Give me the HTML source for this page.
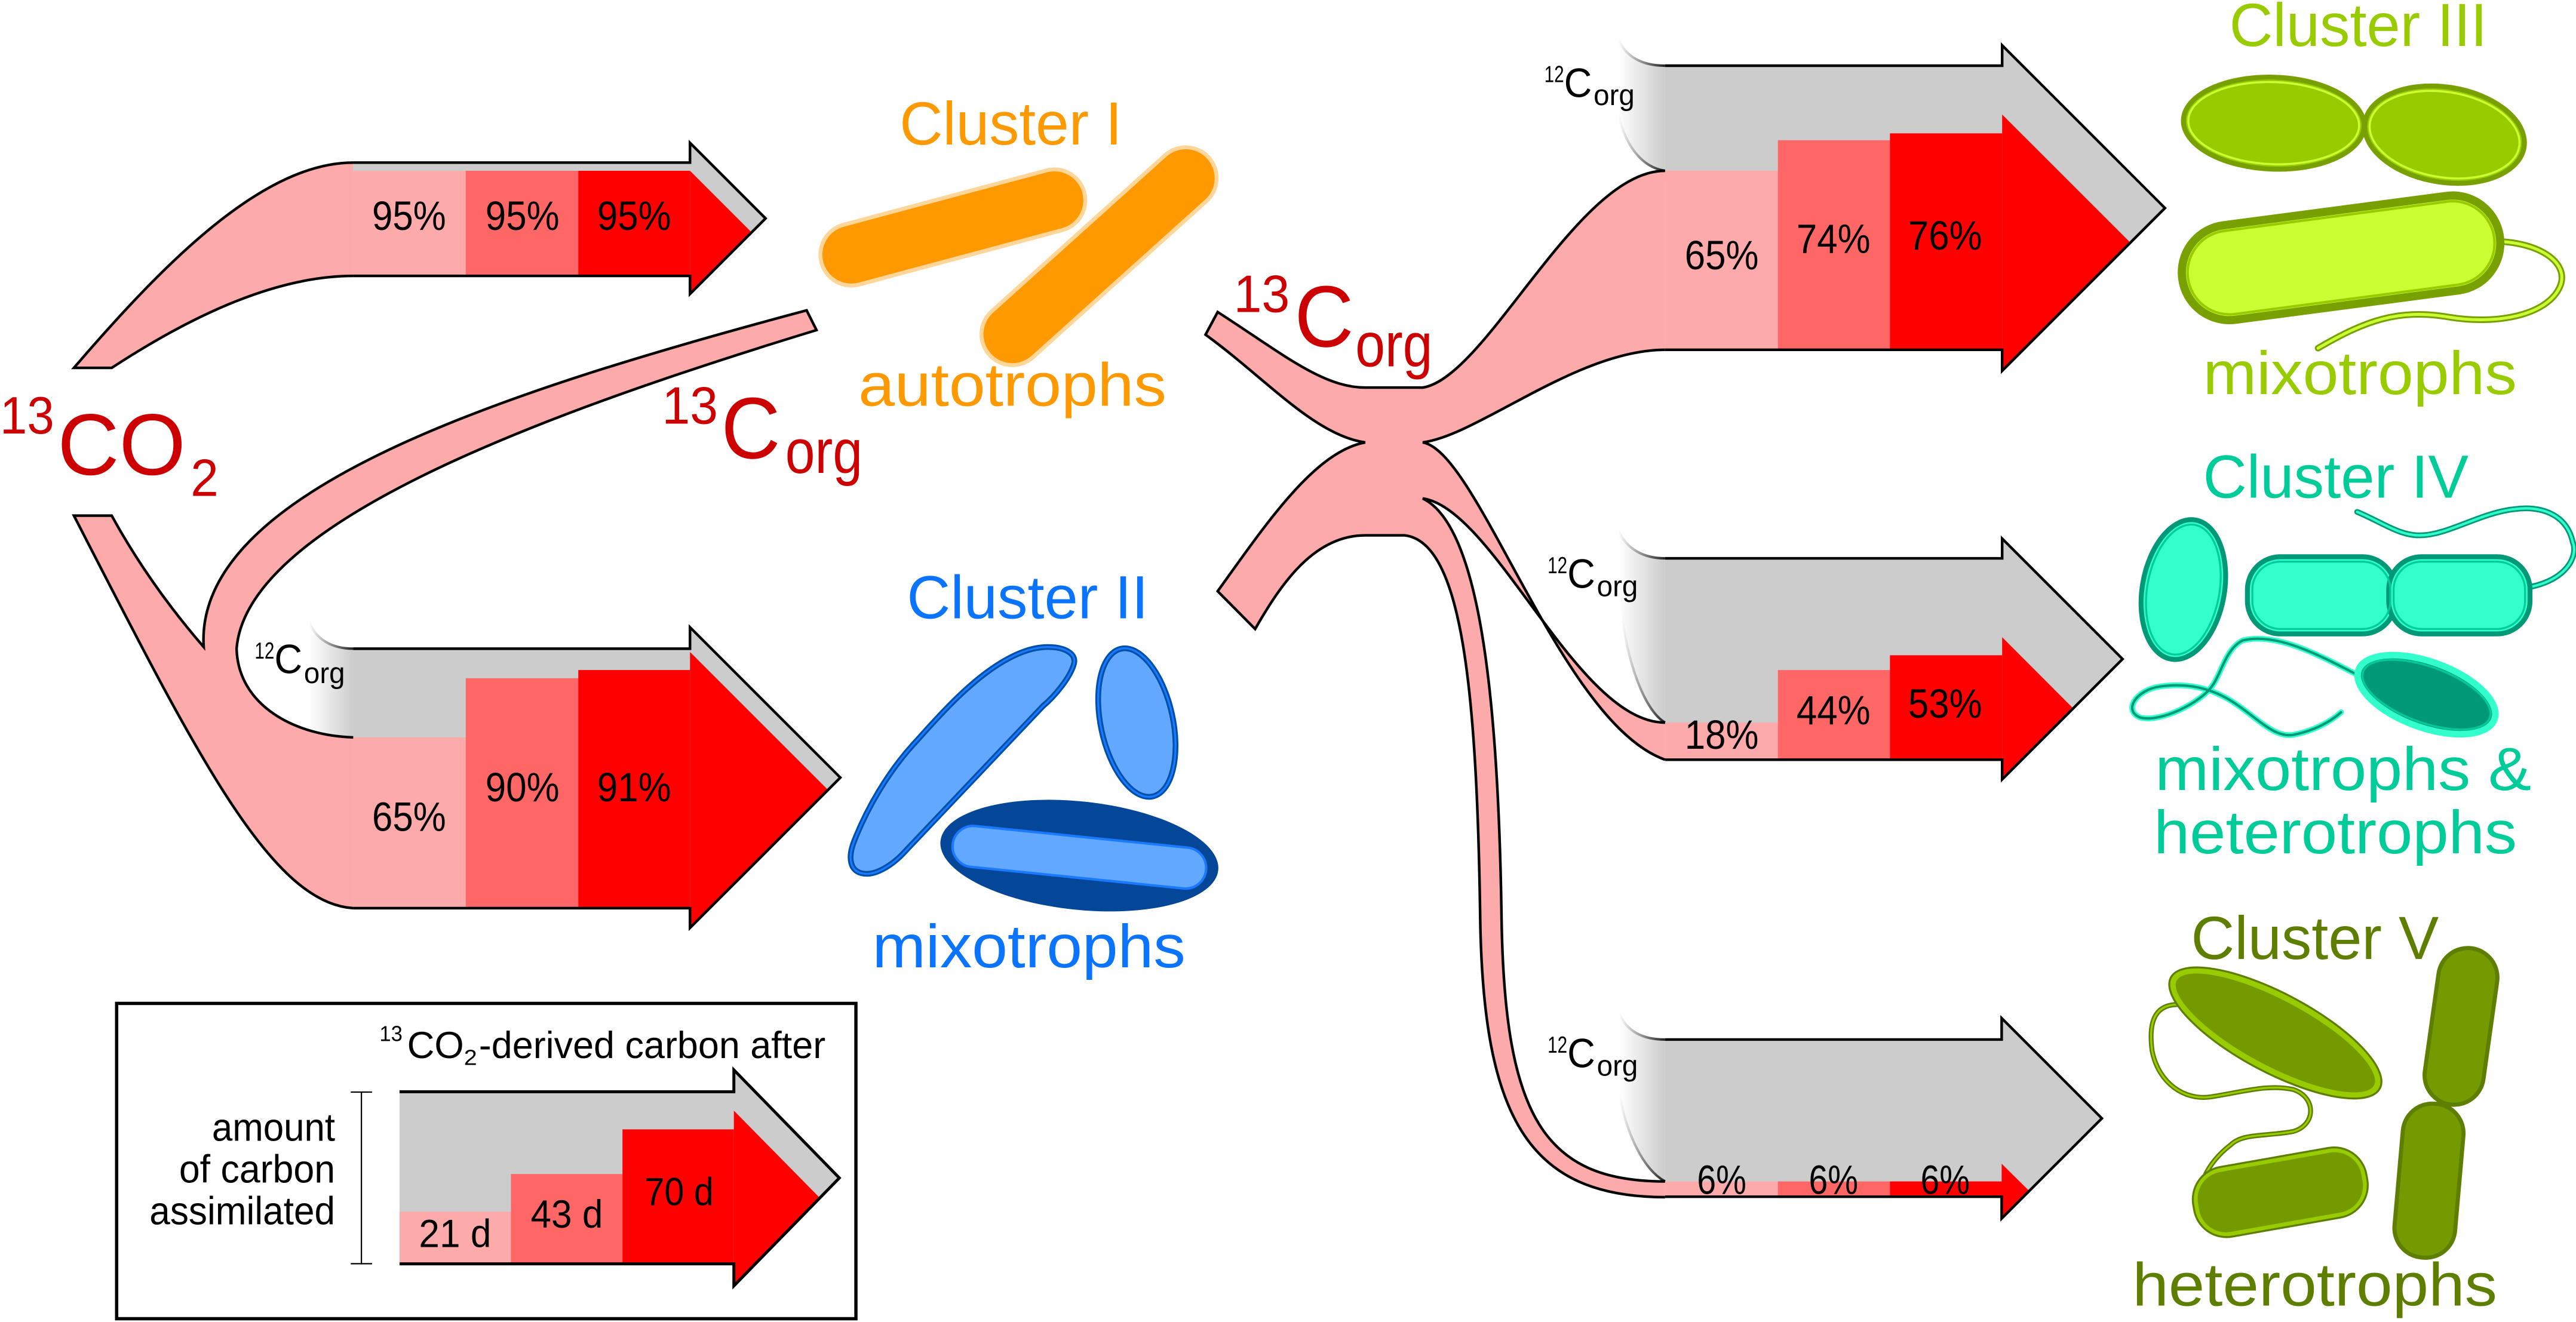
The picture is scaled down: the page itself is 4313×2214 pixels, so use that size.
<!DOCTYPE html>
<html><head><meta charset="utf-8"><style>
html,body{margin:0;padding:0;background:#fff;}
svg{display:block;}
text{font-family:"Liberation Sans",sans-serif;}
</style></head><body>
<svg width="4313" height="2214" viewBox="0 0 1568 805" preserveAspectRatio="none" xmlns="http://www.w3.org/2000/svg">
<defs>
<linearGradient id="fadeL" x1="0" x2="1" y1="0" y2="0"><stop offset="0" stop-color="#fff"/><stop offset="1" stop-color="#ccc"/></linearGradient>
<linearGradient id="fadeS" x1="0" x2="1" y1="0" y2="0"><stop offset="0" stop-color="#fff"/><stop offset="1" stop-color="#222"/></linearGradient>
</defs>
<rect width="1568" height="805" fill="#fff"/>

<!-- ===== grey arrows ===== -->
<g fill="#ccc">
<path d="M215,99 L420,99 L420,87 L466,133 L420,179 L420,168 L215,168Z"/>
<path d="M215,395 L420,395 L420,382 L511.5,473.5 L420,565 L420,553 L215,553Z"/>
<path d="M1013.5,40 L1218.7,40 L1218.7,27.6 L1317.8,126.7 L1218.7,225.8 L1218.7,213 L1013.5,213Z"/>
<path d="M1013.5,340 L1218.7,340 L1218.7,328 L1292,401.3 L1218.7,474.6 L1218.7,462.6 L1013.5,462.6Z"/>
<path d="M1013.5,633 L1218.4,633 L1218.4,620 L1279.4,681 L1218.4,742 L1218.4,728.7 L1013.5,728.7Z"/>
<path d="M243.2,664.8 L446.7,664.8 L446.7,651.5 L510.9,717.3 L446.7,783 L446.7,769.6 L243.2,769.6Z"/>
</g>
<!-- fades -->
<g fill="url(#fadeL)">
<path d="M188,378 C192,390 203,395 215,395 L215,449 L188,449Z"/>
<path d="M985,24 C990,35 1000,40 1013.5,40 L1013.5,104 C1000,102 990,90 985,70Z"/>
<path d="M985,323 C990,334 1000,340 1013.5,340 L1013.5,440 C1000,432 990,400 987,373Z"/>
<path d="M985.6,617 C990,628 1000,633 1013.5,633 L1013.5,719.4 C1000,712 990,690 985.6,666Z"/>
</g>
<g fill="none" stroke="url(#fadeS)" stroke-width="1.5">
<path d="M188,378 C192,390 203,395 215,395"/>
<path d="M985,24 C990,35 1000,40 1013.5,40"/>
<path d="M985,70 C990,90 1000,102 1013.5,104"/>
<path d="M985,323 C990,334 1000,340 1013.5,340"/>
<path d="M987,373 C990,400 1000,432 1013.5,440"/>
<path d="M985.6,617 C990,628 1000,633 1013.5,633"/>
<path d="M985.6,666 C990,690 1000,712 1013.5,719.4"/>
</g>

<!-- ===== bars ===== -->
<!-- top-left -->
<rect x="215" y="104" width="68.5" height="64" fill="#fcaaaa"/>
<rect x="283.5" y="104" width="68.5" height="64" fill="#ff6666"/>
<rect x="352" y="104" width="68" height="64" fill="#ff0000"/>
<path d="M420,104 L457.5,141.5 L420,179Z" fill="#ff0000"/>
<!-- lower-left -->
<rect x="215" y="449" width="68.5" height="104" fill="#fcaaaa"/>
<rect x="283.5" y="413" width="68.5" height="140" fill="#ff6666"/>
<rect x="352" y="408" width="68" height="145" fill="#ff0000"/>
<path d="M420,397 L504,481 L420,565Z" fill="#ff0000"/>
<!-- top-right -->
<rect x="1013.5" y="103.9" width="68.7" height="109.1" fill="#fcaaaa"/>
<rect x="1082.2" y="85.4" width="68.2" height="127.6" fill="#ff6666"/>
<rect x="1150.4" y="81.2" width="68.3" height="131.8" fill="#ff0000"/>
<path d="M1218.7,69.7 L1296.7,147.7 L1218.7,225.8Z" fill="#ff0000"/>
<!-- middle-right -->
<rect x="1013.5" y="440" width="68.7" height="22.6" fill="#fcaaaa"/>
<rect x="1082.2" y="408" width="68.2" height="54.6" fill="#ff6666"/>
<rect x="1150.4" y="399" width="68.3" height="63.6" fill="#ff0000"/>
<path d="M1218.7,388 L1262,431.4 L1218.7,474.6Z" fill="#ff0000"/>
<!-- bottom-right -->
<rect x="1013.5" y="719.4" width="68.7" height="9.3" fill="#fcaaaa"/>
<rect x="1082.2" y="719.4" width="68.2" height="9.3" fill="#ff6666"/>
<rect x="1150.4" y="719.4" width="68.3" height="9.3" fill="#ff0000"/>
<path d="M1218.4,708.6 L1235,725 L1218.4,742Z" fill="#ff0000"/>
<!-- legend -->
<rect x="243.2" y="737.8" width="67.8" height="31.8" fill="#fcaaaa"/>
<rect x="311" y="714.9" width="67.9" height="54.7" fill="#ff6666"/>
<rect x="378.9" y="687.7" width="67.8" height="81.9" fill="#ff0000"/>
<path d="M446.7,676.3 L498.6,729 L446.7,783Z" fill="#ff0000"/>

<!-- ===== pink tails ===== -->
<g fill="#fcaaaa" stroke="none">
<path d="M45,224 L68,224 C120,190 170,168 215,168 L215,99 C160,99 100,160 45,224Z"/>
<path d="M45,314 L68,314 C85,345 105,372 124,394 C118,300 300,240 491,189 L497,201 C320,255 150,320 144,395 C145,430 180,448 215,449 L215,553 C165,550 120,460 45,314Z"/>
<path d="M741.2,190 C780,215 805,236 831,236 L866,236 C905,230 960,104 1013.5,104 L1013.5,213 C960,213 900,265 866,269.4 C900,275 950,440 1013.5,462.6 L1013.5,440 C960,440 910,310 866,303.5 C900,320 912,420 914,560 C916,680 940,719.4 1013.5,719.4 L1013.5,729 C930,729 903,680 901,560 C899,420 890,330 855,326 L831,326 C800,326 780,355 764,383 L741.2,360 C770,320 800,275 831,269.4 C800,265 770,230 733.8,203.8Z"/>
</g>
<g fill="none" stroke="#000" stroke-width="1.6" stroke-linejoin="miter">
<path d="M215,168 C170,168 120,190 68,224 L45,224 C100,160 160,99 215,99"/>
<path d="M215,553 C165,550 120,460 45,314 L68,314 C85,345 105,372 124,394 C118,300 300,240 491,189 L497,201 C320,255 150,320 144,395 C145,430 180,448 215,449"/>
<path d="M1013.5,104 C960,104 905,230 866,236 L831,236 C805,236 780,215 741.2,190 L733.8,203.8 C770,230 800,265 831,269.4 C800,275 770,320 741.2,360 L764,383 C780,355 800,326 831,326 L855,326 C890,330 899,420 901,560 C903,680 930,729 1013.5,729"/>
<path d="M1013.5,213 C960,213 900,265 866,269.4 C900,275 950,440 1013.5,462.6"/>
<path d="M1013.5,440 C960,440 910,310 866,303.5 C900,320 912,420 914,560 C916,680 940,719.4 1013.5,719.4"/>
<!-- arrow outlines -->
<path d="M215,99 L420,99 L420,87 L466,133 L420,179 L420,168 L215,168"/>
<path d="M215,395 L420,395 L420,382 L511.5,473.5 L420,565 L420,553 L215,553"/>
<path d="M1013.5,40 L1218.7,40 L1218.7,27.6 L1317.8,126.7 L1218.7,225.8 L1218.7,213 L1013.5,213"/>
<path d="M1013.5,340 L1218.7,340 L1218.7,328 L1292,401.3 L1218.7,474.6 L1218.7,462.6 L1013.5,462.6"/>
<path d="M1013.5,633 L1218.4,633 L1218.4,620 L1279.4,681 L1218.4,742 L1218.4,728.7 L1013.5,728.7"/>
</g>
<!-- legend box & arrow -->
<rect x="71" y="611" width="450" height="192" fill="none" stroke="#000" stroke-width="2"/>
<g fill="none" stroke="#000">
<path d="M243.2,664.8 L446.7,664.8 L446.7,651.5 L510.9,717.3 L446.7,783 L446.7,769.6 L243.2,769.6" stroke-width="1.8"/>
<path d="M220,665 L220,769.5 M213.5,665 L226.5,665 M213.5,769.5 L226.5,769.5" stroke-width="0.8"/>
</g>

<!-- ===== labels ===== -->
<g font-size="25" fill="#000" text-anchor="middle">
<text x="249" y="140" textLength="45" lengthAdjust="spacingAndGlyphs">95%</text>
<text x="318" y="140" textLength="45" lengthAdjust="spacingAndGlyphs">95%</text>
<text x="386" y="140" textLength="45" lengthAdjust="spacingAndGlyphs">95%</text>
<text x="249" y="506" textLength="45" lengthAdjust="spacingAndGlyphs">65%</text>
<text x="318" y="488" textLength="45" lengthAdjust="spacingAndGlyphs">90%</text>
<text x="386" y="488" textLength="45" lengthAdjust="spacingAndGlyphs">91%</text>
<text x="1048" y="164" textLength="45" lengthAdjust="spacingAndGlyphs">65%</text>
<text x="1116" y="154" textLength="45" lengthAdjust="spacingAndGlyphs">74%</text>
<text x="1184" y="152" textLength="45" lengthAdjust="spacingAndGlyphs">76%</text>
<text x="1048" y="456" textLength="45" lengthAdjust="spacingAndGlyphs">18%</text>
<text x="1116" y="441" textLength="45" lengthAdjust="spacingAndGlyphs">44%</text>
<text x="1184" y="437" textLength="45" lengthAdjust="spacingAndGlyphs">53%</text>
<text x="1048" y="727" textLength="30" lengthAdjust="spacingAndGlyphs">6%</text>
<text x="1116" y="727" textLength="30" lengthAdjust="spacingAndGlyphs">6%</text>
<text x="1184" y="727" textLength="30" lengthAdjust="spacingAndGlyphs">6%</text>
</g>
<!-- 12Corg labels -->
<g fill="#000">
<text x="155" y="401" font-size="14" textLength="12" lengthAdjust="spacingAndGlyphs">12</text>
<text x="167" y="410" font-size="25" textLength="17" lengthAdjust="spacingAndGlyphs">C</text>
<text x="185" y="416" font-size="18" textLength="25" lengthAdjust="spacingAndGlyphs">org</text>
<text x="940" y="50" font-size="14" textLength="12" lengthAdjust="spacingAndGlyphs">12</text>
<text x="952" y="59" font-size="25" textLength="17" lengthAdjust="spacingAndGlyphs">C</text>
<text x="970" y="64" font-size="18" textLength="25" lengthAdjust="spacingAndGlyphs">org</text>
<text x="942" y="349" font-size="14" textLength="12" lengthAdjust="spacingAndGlyphs">12</text>
<text x="954" y="358" font-size="25" textLength="17" lengthAdjust="spacingAndGlyphs">C</text>
<text x="972" y="363" font-size="18" textLength="25" lengthAdjust="spacingAndGlyphs">org</text>
<text x="942" y="641" font-size="14" textLength="12" lengthAdjust="spacingAndGlyphs">12</text>
<text x="954" y="650" font-size="25" textLength="17" lengthAdjust="spacingAndGlyphs">C</text>
<text x="972" y="655" font-size="18" textLength="25" lengthAdjust="spacingAndGlyphs">org</text>
</g>
<!-- big red labels -->
<g fill="#cc0000">
<text x="0" y="264" font-size="32" textLength="33" lengthAdjust="spacingAndGlyphs">13</text>
<text x="35" y="289" font-size="53" textLength="78" lengthAdjust="spacingAndGlyphs">CO</text>
<text x="116" y="302" font-size="32" textLength="17" lengthAdjust="spacingAndGlyphs">2</text>
<text x="403" y="258" font-size="32" textLength="34" lengthAdjust="spacingAndGlyphs">13</text>
<text x="439" y="279" font-size="53" textLength="36" lengthAdjust="spacingAndGlyphs">C</text>
<text x="478" y="288" font-size="38" textLength="47" lengthAdjust="spacingAndGlyphs">org</text>
<text x="751" y="190" font-size="32" textLength="34" lengthAdjust="spacingAndGlyphs">13</text>
<text x="788" y="211" font-size="53" textLength="36" lengthAdjust="spacingAndGlyphs">C</text>
<text x="825" y="223" font-size="38" textLength="47" lengthAdjust="spacingAndGlyphs">org</text>
</g>
<!-- legend text -->
<g fill="#000">
<text x="231" y="634" font-size="13" textLength="14" lengthAdjust="spacingAndGlyphs">13</text>
<text x="247.8" y="644.3" font-size="23" textLength="34.6" lengthAdjust="spacingAndGlyphs">CO</text>
<text x="282.4" y="648.5" font-size="13" textLength="8" lengthAdjust="spacingAndGlyphs">2</text>
<text x="291.5" y="644.3" font-size="23" textLength="211" lengthAdjust="spacingAndGlyphs">-derived carbon after</text>
<text x="204" y="694.6" font-size="24" text-anchor="end" textLength="75" lengthAdjust="spacingAndGlyphs">amount</text>
<text x="204" y="720.1" font-size="24" text-anchor="end" textLength="95" lengthAdjust="spacingAndGlyphs">of carbon</text>
<text x="204" y="745.6" font-size="24" text-anchor="end" textLength="113" lengthAdjust="spacingAndGlyphs">assimilated</text>
<text x="255" y="759.4" font-size="24" textLength="44" lengthAdjust="spacingAndGlyphs">21 d</text>
<text x="323" y="747.6" font-size="24" textLength="44" lengthAdjust="spacingAndGlyphs">43 d</text>
<text x="392.4" y="733.9" font-size="24" textLength="42" lengthAdjust="spacingAndGlyphs">70 d</text>
</g>

<!-- ===== Cluster I ===== -->
<text x="547.6" y="88" font-size="37" fill="#ff9900" textLength="135.4" lengthAdjust="spacingAndGlyphs">Cluster I</text>
<text x="522.5" y="247" font-size="37" fill="#ff9900" textLength="187.5" lengthAdjust="spacingAndGlyphs">autotrophs</text>
<g fill="#ff9900" stroke="#ffd699" stroke-width="3">
<rect x="497.5" y="120" width="165" height="37" rx="18.5" transform="rotate(-15 580 138.5)"/>
<rect x="579.5" y="137.5" width="179" height="37" rx="18.5" transform="rotate(-42 669 156)"/>
</g>
<g fill="none" stroke="#ff9900" stroke-width="1.2">
<rect x="499" y="121.5" width="162" height="34" rx="17" transform="rotate(-15 580 138.5)"/>
<rect x="581" y="139" width="176" height="34" rx="17" transform="rotate(-42 669 156)"/>
</g>

<!-- ===== Cluster II ===== -->
<text x="552" y="376.5" font-size="37" fill="#0a74ff" textLength="147" lengthAdjust="spacingAndGlyphs">Cluster II</text>
<text x="531" y="589" font-size="37" fill="#0a74ff" textLength="190.6" lengthAdjust="spacingAndGlyphs">mixotrophs</text>
<g fill="#62a8ff" stroke="#004fa8" stroke-width="3.5">
<path d="M638,394 C648,394 656,398 653.5,405 C651,413 642,424 634.8,430 L550.4,519 C543,527 533,533 526,532 C517,531 516,522 520,512 C527,494 540,470 558.5,450.5 C575,432 590,416 607,405 C618,398 628,394 638,394Z"/>
<ellipse cx="692" cy="440" rx="22" ry="46" transform="rotate(-12 692 440)"/>
</g>
<g fill="none" stroke="#1a7aff" stroke-width="1.2">
<path d="M638,394 C648,394 656,398 653.5,405 C651,413 642,424 634.8,430 L550.4,519 C543,527 533,533 526,532 C517,531 516,522 520,512 C527,494 540,470 558.5,450.5 C575,432 590,416 607,405 C618,398 628,394 638,394Z"/>
<ellipse cx="692" cy="440" rx="22" ry="46" transform="rotate(-12 692 440)"/>
</g>
<ellipse cx="657" cy="521" rx="85" ry="33" transform="rotate(6 657 521)" fill="#044799"/>
<rect x="579.5" y="509.5" width="155" height="25" rx="12.5" transform="rotate(5.8 657 522)" fill="#62a8ff" stroke="#1a7aff" stroke-width="1.5"/>

<!-- ===== Cluster III ===== -->
<text x="1357" y="28" font-size="37" fill="#99cc00" textLength="157" lengthAdjust="spacingAndGlyphs">Cluster III</text>
<text x="1341" y="240" font-size="37" fill="#99cc00" textLength="191" lengthAdjust="spacingAndGlyphs">mixotrophs</text>
<g fill="#99cc00" stroke="#77a000" stroke-width="3">
<ellipse cx="1384" cy="75" rx="55" ry="28" transform="rotate(2 1384 75)"/>
<ellipse cx="1488" cy="82" rx="49" ry="29" transform="rotate(9 1488 82)"/>
</g>
<g fill="none" stroke="#ccff33" stroke-width="1.3">
<ellipse cx="1384" cy="75" rx="52" ry="25" transform="rotate(2 1384 75)"/>
<ellipse cx="1488" cy="82" rx="46" ry="26" transform="rotate(9 1488 82)"/>
</g>
<path d="M1514,147 C1545,146 1565,160 1558,175 C1550,192 1520,198 1490,193 C1460,188 1440,195 1411,212" fill="none" stroke="#77a000" stroke-width="4" stroke-linecap="round"/>
<path d="M1514,147 C1545,146 1565,160 1558,175 C1550,192 1520,198 1490,193 C1460,188 1440,195 1411,212" fill="none" stroke="#ccff33" stroke-width="1.8" stroke-linecap="round"/>
<rect x="1327.5" y="128" width="195" height="58" rx="29" transform="rotate(-7.5 1425 157)" fill="#ccff33" stroke="#77a000" stroke-width="5"/>
<rect x="1331" y="131.5" width="188" height="51" rx="25.5" transform="rotate(-7.5 1425 157)" fill="none" stroke="#99cc00" stroke-width="1.5"/>

<!-- ===== Cluster IV ===== -->
<text x="1341" y="303" font-size="37" fill="#00cc99" textLength="161.6" lengthAdjust="spacingAndGlyphs">Cluster IV</text>
<text x="1311.8" y="481" font-size="37" fill="#00cc99" textLength="229" lengthAdjust="spacingAndGlyphs">mixotrophs &amp;</text>
<text x="1311" y="519.6" font-size="37" fill="#00cc99" textLength="221" lengthAdjust="spacingAndGlyphs">heterotrophs</text>
<g fill="none" stroke-linecap="round">
<path d="M1533,358.4 C1560,356 1570,340 1566,330 C1562,312 1545,308 1531,310 C1510,312 1490,326 1472.8,326 C1460,326 1450,318 1434.8,311.7" stroke="#009977" stroke-width="3.5"/>
<path d="M1533,358.4 C1560,356 1570,340 1566,330 C1562,312 1545,308 1531,310 C1510,312 1490,326 1472.8,326 C1460,326 1450,318 1434.8,311.7" stroke="#33ffcc" stroke-width="1.5"/>
<path d="M1433.9,410.4 C1410,398 1385,385 1365,390 C1355,395 1352,410 1347,417 C1340,428 1315,440 1303,437 C1292,433 1300,420 1315,418 C1330,416 1345,418 1360,428 C1375,438 1385,450 1396.7,447.3 C1408,445 1418,440 1425,433.7" stroke="#33ffcc" stroke-width="3.5"/>
<path d="M1433.9,410.4 C1410,398 1385,385 1365,390 C1355,395 1352,410 1347,417 C1340,428 1315,440 1303,437 C1292,433 1300,420 1315,418 C1330,416 1345,418 1360,428 C1375,438 1385,450 1396.7,447.3 C1408,445 1418,440 1425,433.7" stroke="#009977" stroke-width="1.5"/>
</g>
<ellipse cx="1329" cy="359" rx="25" ry="43" transform="rotate(10 1329 359)" fill="#33ffcc" stroke="#009977" stroke-width="3"/>
<ellipse cx="1329" cy="359" rx="22" ry="40" transform="rotate(10 1329 359)" fill="none" stroke="#00cc99" stroke-width="1.2"/>
<rect x="1368" y="339" width="90" height="47" rx="20" fill="#33ffcc" stroke="#009977" stroke-width="3"/>
<rect x="1454" y="339" width="86" height="47" rx="20" fill="#33ffcc" stroke="#009977" stroke-width="3"/>
<rect x="1371" y="342" width="84" height="41" rx="17" fill="none" stroke="#00cc99" stroke-width="1.2"/>
<rect x="1457" y="342" width="80" height="41" rx="17" fill="none" stroke="#00cc99" stroke-width="1.2"/>
<ellipse cx="1477" cy="423" rx="44" ry="20" transform="rotate(20 1477 423)" fill="#009977" stroke="#33ffcc" stroke-width="4"/>
<ellipse cx="1477" cy="423" rx="41" ry="17" transform="rotate(20 1477 423)" fill="none" stroke="#00cc99" stroke-width="1.2"/>

<!-- ===== Cluster V ===== -->
<text x="1333.7" y="584" font-size="37" fill="#5e7e00" textLength="150.8" lengthAdjust="spacingAndGlyphs">Cluster V</text>
<text x="1298" y="795" font-size="37" fill="#5e7e00" textLength="222" lengthAdjust="spacingAndGlyphs">heterotrophs</text>
<path d="M1325,611.7 C1310,612 1308,625 1310,640 C1314,660 1330,670 1345,668 C1365,665 1380,660 1395.8,663.4 C1410,668 1410,685 1395.8,689 C1380,692 1365,690 1358,697 C1350,703 1345,710 1342.6,715" fill="none" stroke="#5e7e00" stroke-width="3" stroke-linecap="round"/>
<path d="M1325,611.7 C1310,612 1308,625 1310,640 C1314,660 1330,670 1345,668 C1365,665 1380,660 1395.8,663.4 C1410,668 1410,685 1395.8,689 C1380,692 1365,690 1358,697 C1350,703 1345,710 1342.6,715" fill="none" stroke="#99cc00" stroke-width="1.2" stroke-linecap="round"/>
<ellipse cx="1385" cy="629" rx="70" ry="22" transform="rotate(28 1385 629)" fill="#749a00" stroke="#99cc00" stroke-width="4"/>
<ellipse cx="1385" cy="629" rx="72" ry="24" transform="rotate(28 1385 629)" fill="none" stroke="#5e7e00" stroke-width="1.2"/>
<rect x="1336" y="706" width="104" height="40" rx="18" transform="rotate(-10 1388 726)" fill="#749a00" stroke="#99cc00" stroke-width="3"/>
<rect x="1334.5" y="704.5" width="107" height="43" rx="20" transform="rotate(-10 1388 726)" fill="none" stroke="#5e7e00" stroke-width="1.2"/>
<rect x="1480" y="577" width="36" height="96" rx="18" transform="rotate(8 1498 625)" fill="#749a00" stroke="#5e7e00" stroke-width="2.5"/>
<rect x="1460" y="672" width="37" height="94" rx="18" transform="rotate(5 1479 719)" fill="#749a00" stroke="#5e7e00" stroke-width="2.5"/>
</svg>
</body></html>
